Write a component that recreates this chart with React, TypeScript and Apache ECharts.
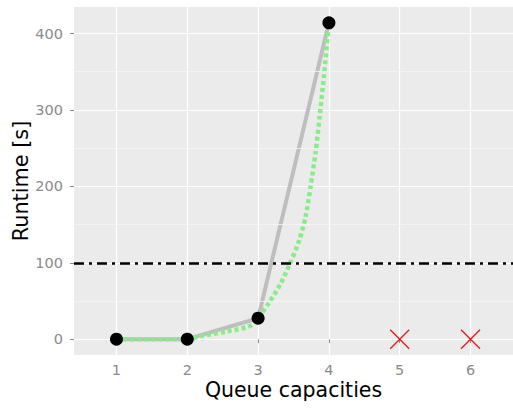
import React, { useEffect, useRef } from "react";
import * as echarts from "echarts";

const capacities = [1, 2, 3, 4];
const runtimes = [0, 0, 27.5, 414];
const failedCapacities = [5, 6];
const failedRuntimes = [0, 0];
const fitX = [1, 2, 2.24, 2.56, 2.85, 2.94, 3.15, 3.32, 3.46, 3.58, 3.67, 3.74, 3.81, 3.87, 3.93, 4];
const fitY = [0, 0, 5, 10, 16, 21, 47, 73, 101, 129, 160, 199, 243, 292, 345, 414];
const xTicks = [1, 2, 3, 4, 5, 6];
const yTicks = [0, 100, 200, 300, 400];
const yMinor = [50, 150, 250, 350];
const threshold = 100;

export default function App() {
  const ref = useRef<HTMLDivElement>(null);
  useEffect(() => {
    const chart = echarts.init(ref.current!, null, { renderer: "svg" });
    const font = "DejaVu Sans, sans-serif";
    chart.setOption({
      animation: false,
      backgroundColor: "#ffffff",
      grid: {
        left: 74, right: 0, top: 7, bottom: 53,
        backgroundColor: "#EBEBEB", show: true, borderWidth: 0,
        containLabel: false, outerBoundsMode: "none",
      },
      xAxis: {
        type: "value",
        min: 0.4,
        max: 6.6,
        name: "Queue capacities",
        nameLocation: "middle",
        nameGap: 24,
        nameMoveOverlap: false,
        nameTextStyle: { fontFamily: font, fontSize: 20.5, color: "#000" },
        axisLine: { show: false },
        axisTick: { show: true, length: 4, lineStyle: { color: "#8A8A8A", width: 1 }, customValues: xTicks },
        axisLabel: { fontFamily: font, fontSize: 14.5, color: "#8A8A8A", margin: 7, customValues: xTicks },
        splitLine: { show: true, lineStyle: { color: "#FFFFFF", width: 1.2 } },
      },
      yAxis: {
        type: "value",
        min: -20.7,
        max: 434.7,
        name: "Runtime [s]",
        nameLocation: "middle",
        nameGap: 43,
        nameMoveOverlap: false,
        nameTextStyle: { fontFamily: font, fontSize: 20.8, color: "#000" },
        axisLine: { show: false },
        axisTick: { show: true, length: 4, lineStyle: { color: "#8A8A8A", width: 1 }, customValues: yTicks },
        axisLabel: { fontFamily: font, fontSize: 14.5, color: "#8A8A8A", margin: 11, customValues: yTicks },
        splitLine: { show: true, lineStyle: { color: "#FFFFFF", width: 1.2 } },
      },
      series: [
        {
          type: "line",
          data: yMinor.map((v) => [0.4, v]),
          symbol: "none",
          lineStyle: { opacity: 0 },
          silent: true,
          markLine: {
            silent: true,
            symbol: "none",
            label: { show: false },
            lineStyle: { color: "#F5F5F5", width: 0.8, type: "solid" },
            data: yMinor.map((v) => ({ yAxis: v })),
          },
        },
        {
          type: "line",
          data: capacities.map((c, i) => [c, runtimes[i]]),
          symbol: "none",
          lineStyle: { color: "#BEBEBE", width: 4 },
          z: 3,
          markLine: {
            silent: true,
            symbol: "none",
            label: { show: false },
            lineStyle: { color: "#000000", width: 2.5, type: [10, 5, 3, 5] },
            data: [{ yAxis: threshold }],
          },
        },
        {
          type: "line",
          data: fitX.map((x, i) => [x, fitY[i]]),
          symbol: "none",
          smooth: 0.25,
          lineStyle: { color: "#88EC88", width: 4.5, type: [4, 3] },
          z: 4,
        },
        {
          type: "scatter",
          data: capacities.map((c, i) => [c, runtimes[i]]),
          symbol: "circle",
          symbolSize: 13,
          itemStyle: { color: "#000000", opacity: 1 },
          z: 5,
        },
        {
          type: "scatter",
          data: failedCapacities.map((c, i) => [c, failedRuntimes[i]]),
          symbol: "path://M0,0L10,10M10,0L0,10",
          symbolSize: 19,
          itemStyle: { color: "transparent", borderColor: "#E41A1C", borderWidth: 1.3, opacity: 1 },
          z: 5,
        },
      ],
    });
    return () => chart.dispose();
  }, []);
  return <div ref={ref} style={{ width: 513, height: 408, position: "absolute", left: 0, top: 0 }} />;
}
